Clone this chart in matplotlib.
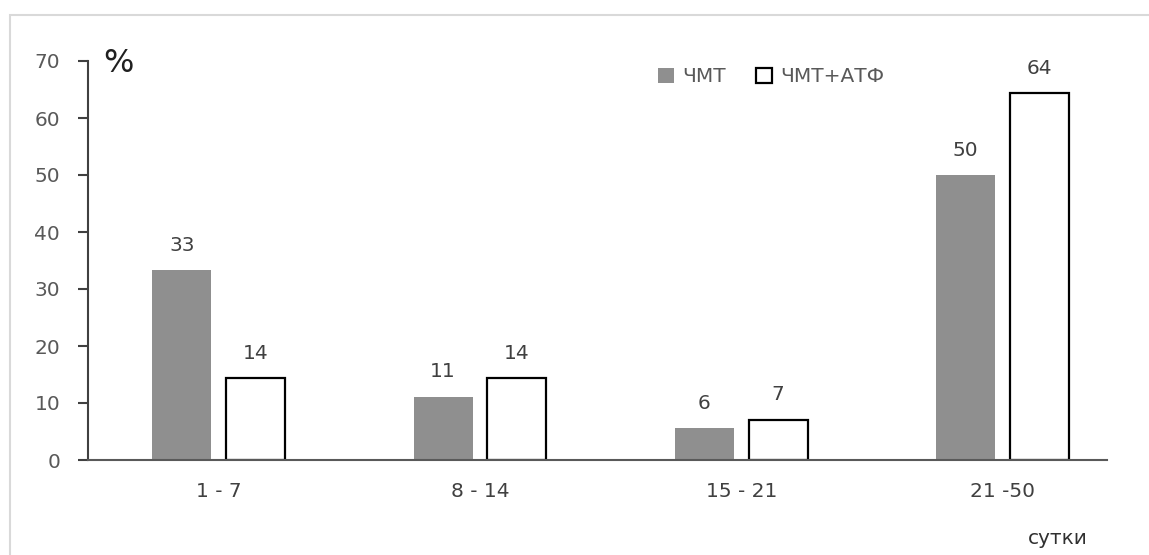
import matplotlib
matplotlib.use("Agg")
import matplotlib.pyplot as plt
from matplotlib.patches import Rectangle, Patch
import numpy as np

plt.rcParams['font.family'] = ['DejaVu Sans']

categories = ["1 - 7", "8 - 14", "15 - 21", "21 -50"]
chmt = [33.3, 11.1, 5.6, 50.0]
chmt_atf = [14.3, 14.3, 7.1, 64.3]
series_names = ["ЧМТ", "ЧМТ+АТФ"]
yticks = [0, 10, 20, 30, 40, 50, 60, 70]

fig = plt.figure(figsize=(11.49, 5.55), dpi=100)
# light gray outer frame
fig.patches.append(Rectangle((10/1149, -0.1), 1.2, 1 - 15/555 + 0.1, transform=fig.transFigure,
                             fill=False, edgecolor='#d9d9d9', linewidth=1.5))

ax = fig.add_axes([88/1149, 1 - 460/555, (1107 - 88)/1149, (460 - 61)/555])
x = np.arange(len(categories))
w = 0.226
off = 0.141
b1 = ax.bar(x - off, chmt, w, color='#8f8f8f', edgecolor='none', label=series_names[0])
b2 = ax.bar(x + off, chmt_atf, w, color='white', edgecolor='black', linewidth=1.6, label=series_names[1])

ax.bar_label(b1, fmt='%.0f', padding=11, fontsize=14.5, color='#404040')
ax.bar_label(b2, fmt='%.0f', padding=11, fontsize=14.5, color='#404040')

ax.set_xlim(-0.5, 3.4)
ax.set_ylim(0, 70)
ax.set_yticks(yticks)
ax.set_xticks(x)
ax.set_xticklabels(categories)
ax.tick_params(axis='y', direction='out', length=7, width=1.5, color='#404040',
               labelsize=14.5, labelcolor='#595959', pad=13)
ax.tick_params(axis='x', length=0, labelsize=14.5, labelcolor='#404040', pad=16)
for s in ['top', 'right']:
    ax.spines[s].set_visible(False)
ax.spines['left'].set_color('#404040')
ax.spines['left'].set_linewidth(1.5)
ax.spines['bottom'].set_color('#595959')
ax.spines['bottom'].set_linewidth(1.5)

fig.text(103/1149, 1 - 63/555, "%", fontsize=23, color='#202020', va='center', ha='left')
fig.text(1058/1149, 1 - 538/555, "сутки", fontsize=14.5, color='#303030', va='center', ha='center')

handles = [Patch(facecolor='#8f8f8f', edgecolor='none'),
           Patch(facecolor='white', edgecolor='black', linewidth=1.6)]
fig.legend(handles, series_names, loc='center', bbox_to_anchor=(771/1149, 1 - 77/555), ncol=2,
           frameon=False, fontsize=14.5, handlelength=0.8, handleheight=0.8,
           handletextpad=0.4, columnspacing=1.5, labelcolor='#595959')

fig.savefig("out.png", dpi=100)
